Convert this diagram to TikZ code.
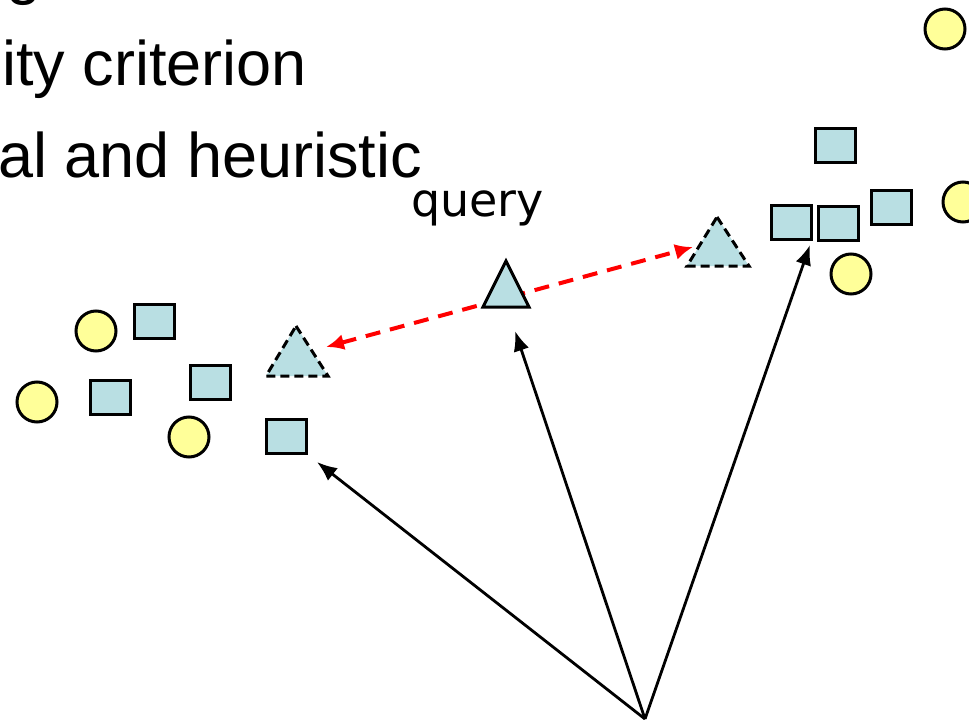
\documentclass[tikz,border=0pt]{standalone}
\usepackage{fontspec}
\setmainfont{Liberation Sans}
\newfontfamily\queryfont{DejaVu Sans}
\usetikzlibrary{arrows.meta}
\definecolor{dotyellow}{HTML}{FFFF99}
\definecolor{boxcyan}{HTML}{B9DFE3}
\definecolor{linkred}{HTML}{FF0000}
\begin{document}
\begin{tikzpicture}[x=1pt,y=-1pt,
  dot/.style={circle,draw=black,fill=dotyellow,line width=3pt,minimum size=40pt,inner sep=0pt},
  sq/.style={rectangle,draw=black,fill=boxcyan,line width=3pt,minimum width=40pt,minimum height=34pt,inner sep=0pt},
  solidtri/.style={draw=black,fill=boxcyan,line width=3pt,line join=miter},
  dashtri/.style={draw=black,fill=boxcyan,line width=3pt,dash pattern=on 9pt off 5pt},
  bigtext/.style={font=\fontsize{63}{70}\selectfont,inner sep=0pt,anchor=base east},
  pointer/.style={draw=black,line width=2.8pt,-{Latex[length=20pt,width=16pt]}},
  similar/.style={draw=linkred,line width=4pt,dash pattern=on 15pt off 10pt,
     {Latex[length=18pt,width=16pt]}-{Latex[length=18pt,width=16pt]}}]
\useasboundingbox (0,0) rectangle (969,720);
% text
\node[bigtext] (lg) at (42,-7) {g};
\node[bigtext] (l2) at (307,85) {ity criterion};
\node[bigtext] (l3) at (422,177) {al and heuristic};
\node[inner sep=0pt,anchor=base west,font=\queryfont\fontsize{46}{50}\selectfont] (qlabel) at (411,216) {query};
% circles
\node[dot] (c1) at (945,29) {};
\node[dot] (c2) at (963,202) {};
\node[dot] (c3) at (851,274) {};
\node[dot] (c4) at (96,331) {};
\node[dot] (c5) at (37,402) {};
\node[dot] (c6) at (189,437) {};
% squares
\node[sq] (s1) at (835,145) {};
\node[sq] (s2) at (791,222) {};
\node[sq] (s3) at (838,223) {};
\node[sq] (s4) at (891,207) {};
\node[sq] (s5) at (154,321) {};
\node[sq] (s6) at (110,397) {};
\node[sq] (s7) at (210,382) {};
\node[sq] (s8) at (286,436) {};
% arrow end points
\coordinate (origin) at (645,719);
\coordinate (tipL) at (317,462);
\coordinate (tipQ) at (515,331);
\coordinate (tipR) at (810,245);
\coordinate (nnL) at (326,347);
\coordinate (nnR) at (693,247);
% red similarity link
\draw[similar] (nnL) -- (nnR);
% triangles
\path[dashtri] (296,326) -- (328,376) -- (266,376) -- cycle;
\path[dashtri] (717,217) -- (749,266) -- (687,266) -- cycle;
\path[solidtri] (506,261) -- (529,307) -- (483,307) -- cycle;
% black pointers
\draw[pointer] (origin) -- (tipL);
\draw[pointer] (origin) -- (tipQ);
\draw[pointer] (origin) -- (tipR);
\end{tikzpicture}
\end{document}
